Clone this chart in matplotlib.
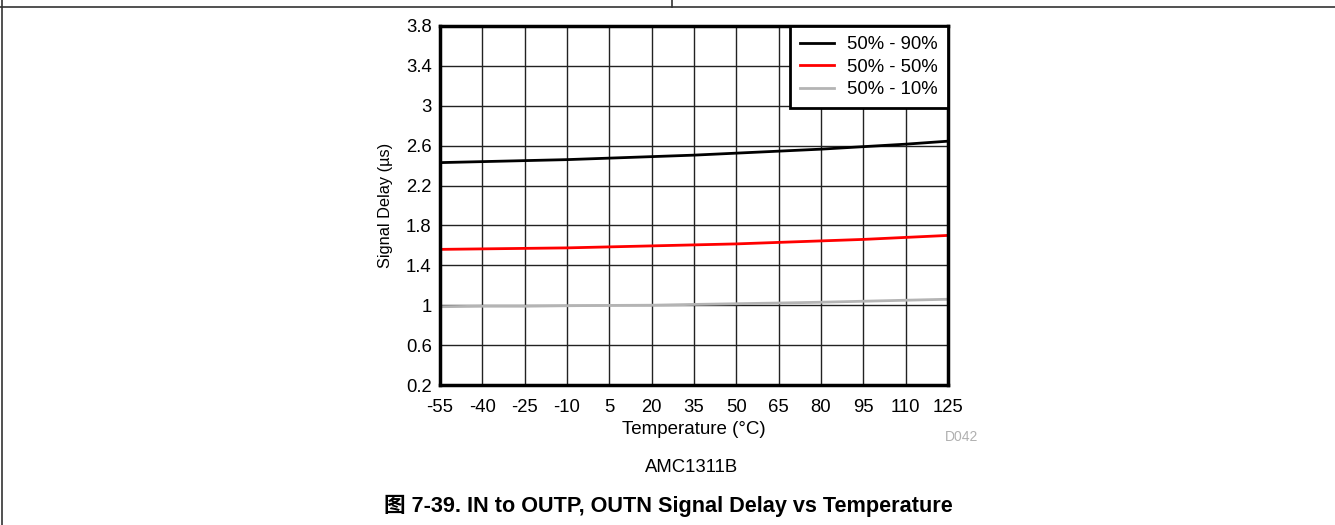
import numpy as np
import matplotlib
matplotlib.use("Agg")
import matplotlib.pyplot as plt
from matplotlib.lines import Line2D

plt.rcParams['font.family'] = ['Liberation Sans', 'Noto Sans CJK SC', 'DejaVu Sans']

# data
temps = [-55, -40, -25, -10, 5, 20, 35, 50, 65, 80, 95, 110, 125]
delay_90 = [2.43, 2.44, 2.45, 2.46, 2.475, 2.49, 2.505, 2.525, 2.545, 2.565, 2.59, 2.615, 2.645]
delay_50 = [1.56, 1.565, 1.57, 1.575, 1.585, 1.595, 1.605, 1.615, 1.63, 1.645, 1.66, 1.68, 1.70]
delay_10 = [0.985, 0.99, 0.99, 0.995, 0.998, 1.0, 1.008, 1.015, 1.022, 1.03, 1.04, 1.05, 1.06]
yticks = [0.2, 0.6, 1, 1.4, 1.8, 2.2, 2.6, 3, 3.4, 3.8]
ytick_labels = ['0.2', '0.6', '1', '1.4', '1.8', '2.2', '2.6', '3', '3.4', '3.8']

fig = plt.figure(figsize=(13.35, 5.25), dpi=100)
ax = fig.add_axes([440/1335, 1 - 385/525, 508/1335, 359/525])

ax.plot(temps, delay_90, color='black', lw=2, label='50% - 90%')
ax.plot(temps, delay_50, color='#ff0000', lw=2, label='50% - 50%')
ax.plot(temps, delay_10, color='#b4b4b4', lw=2, label='50% - 10%')

ax.set_xlim(-55, 125)
ax.set_ylim(0.2, 3.8)
ax.set_xticks(temps)
ax.set_xticklabels([str(t) for t in temps])
ax.set_yticks(yticks)
ax.set_yticklabels(ytick_labels)
ax.tick_params(length=0, labelsize=13.3)
ax.tick_params(axis='x', pad=10)
ax.tick_params(axis='y', pad=6)
ax.grid(True, color='#222222', lw=1)
ax.set_axisbelow(True)
for s in ax.spines.values():
    s.set_linewidth(2.5)

ax.set_xlabel('Temperature (°C)', fontsize=13.5, labelpad=4)
ax.set_ylabel('Signal Delay (µs)', fontsize=11.8, labelpad=9)

leg = ax.legend(loc='upper right', fontsize=13.3, frameon=True, fancybox=False,
                borderaxespad=0, handlelength=1.85, labelspacing=0.3,
                borderpad=0.55, handletextpad=0.7)
leg.get_frame().set_edgecolor('black')
leg.get_frame().set_linewidth(2)
leg.get_frame().set_alpha(1)

fig.text(962/1335, 1 - 437/525, 'D042', color='#b0b0b0', fontsize=10, ha='center', va='center')
fig.text(692/1335, 1 - 467/525, 'AMC1311B', fontsize=13.3, ha='center', va='center')
fig.text(668.5/1335, 1 - 506/525, '图 7-39. IN to OUTP, OUTN Signal Delay vs Temperature',
         fontsize=15.6, fontweight='bold', ha='center', va='center')

# page frame lines
fig.add_artist(Line2D([0, 1], [1 - 7/525, 1 - 7/525], color='#333333', lw=1.2))
fig.add_artist(Line2D([672/1335, 672/1335], [1 - 7/525, 1], color='#333333', lw=1.2))
fig.add_artist(Line2D([2/1335, 2/1335], [0, 1], color='#333333', lw=1.2))

fig.savefig('out.png', dpi=100)
